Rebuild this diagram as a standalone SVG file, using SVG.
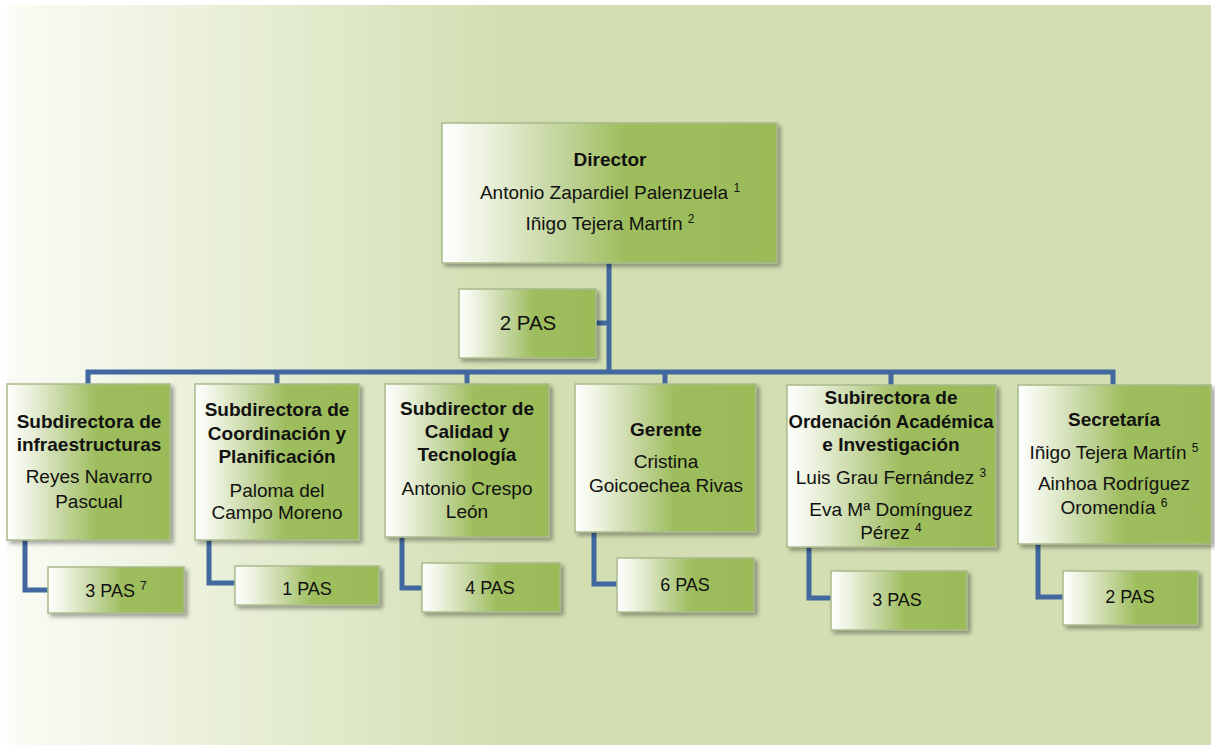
<svg xmlns="http://www.w3.org/2000/svg" width="1215" height="745" viewBox="0 0 1215 745">
<style>
.box{stroke:#a9ba8c;stroke-width:1.5;filter:url(#sh)}
.t{font-family:"Liberation Sans",Arial,sans-serif;font-size:19px;fill:#111;text-anchor:middle}
.b{font-weight:bold}
.p{font-size:18px}
.sup{font-size:12px}
.con{fill:none;stroke:#41699f;stroke-width:5;stroke-linejoin:miter}
</style>
<defs>
<linearGradient id="bg" gradientUnits="userSpaceOnUse" x1="7" y1="0" x2="500" y2="0">
<stop offset="0" stop-color="#fafcf5"/>
<stop offset="1" stop-color="#d3dfb3"/>
</linearGradient>
<linearGradient id="g" x1="0" y1="0" x2="1" y2="0">
<stop offset="0" stop-color="#ffffff"/>
<stop offset="0.12" stop-color="#eef3e1"/>
<stop offset="0.35" stop-color="#c3d59d"/>
<stop offset="0.55" stop-color="#9ebd5d"/>
<stop offset="1" stop-color="#9bbb59"/>
</linearGradient>
<filter id="sh" x="-10%" y="-10%" width="125%" height="130%">
<feDropShadow dx="3" dy="3" stdDeviation="2" flood-color="#000" flood-opacity="0.35"/>
</filter>
</defs>
<rect x="0" y="0" width="1215" height="745" fill="#ffffff"/>
<rect x="7" y="5" width="1204" height="740" fill="url(#bg)"/>

<g id="connectors">
<path class="con" d="M609 263 V372"/>
<path class="con" d="M596 323 H609"/>
<path class="con" d="M88 384 V372 H1113 V385"/>
<path class="con" d="M277 372 V384"/>
<path class="con" d="M467 372 V384"/>
<path class="con" d="M665 372 V384"/>
<path class="con" d="M891 372 V385"/>
<path class="con" d="M25 540 V590 H48"/>
<path class="con" d="M209 536 V583 H235"/>
<path class="con" d="M402 537 V588 H422"/>
<path class="con" d="M594 532 V584 H617"/>
<path class="con" d="M809 547 V598 H831"/>
<path class="con" d="M1038 544 V597 H1063"/>
</g>

<g id="director">
<rect class="box" x="442" y="123" width="335" height="140" fill="url(#g)"/>
<text class="t b" x="610" y="166">Director</text>
<text class="t" x="610" y="199">Antonio Zapardiel Palenzuela <tspan class="sup" dy="-7">1</tspan></text>
<text class="t" x="610" y="230">Iñigo Tejera Martín <tspan class="sup" dy="-7">2</tspan></text>
</g>

<g id="director-pas">
<rect class="box" x="459" y="289" width="137" height="69" fill="url(#g)"/>
<text class="t" x="528" y="330" style="font-size:20.5px">2 PAS</text>
</g>

<g id="infraestructuras">
<rect class="box" x="7" y="384" width="163" height="156" fill="url(#g)"/>
<text class="t b" x="89" y="428">Subdirectora de</text>
<text class="t b" x="89" y="451">infraestructuras</text>
<text class="t" x="89" y="483">Reyes Navarro</text>
<text class="t" x="89" y="508">Pascual</text>
</g>
<g id="infraestructuras-pas">
<rect class="box" x="48" y="567" width="136" height="46" fill="url(#g)"/>
<text class="t p" x="116" y="597">3 PAS <tspan class="sup" dy="-7">7</tspan></text>
</g>

<g id="coordinacion">
<rect class="box" x="195" y="384" width="164" height="156" fill="url(#g)"/>
<text class="t b" x="277" y="416">Subdirectora de</text>
<text class="t b" x="277" y="440">Coordinación y</text>
<text class="t b" x="277" y="463">Planificación</text>
<text class="t" x="277" y="497">Paloma del</text>
<text class="t" x="277" y="519">Campo Moreno</text>
</g>
<g id="coordinacion-pas">
<rect class="box" x="235" y="566" width="144" height="39" fill="url(#g)"/>
<text class="t p" x="307" y="595">1 PAS</text>
</g>

<g id="calidad">
<rect class="box" x="385" y="384" width="164" height="153" fill="url(#g)"/>
<text class="t b" x="467" y="415">Subdirector de</text>
<text class="t b" x="467" y="438">Calidad y</text>
<text class="t b" x="467" y="461">Tecnología</text>
<text class="t" x="467" y="495">Antonio Crespo</text>
<text class="t" x="467" y="518">León</text>
</g>
<g id="calidad-pas">
<rect class="box" x="422" y="563" width="138" height="49" fill="url(#g)"/>
<text class="t p" x="490" y="594">4 PAS</text>
</g>

<g id="gerente">
<rect class="box" x="575" y="384" width="181" height="148" fill="url(#g)"/>
<text class="t b" x="666" y="436">Gerente</text>
<text class="t" x="666" y="468">Cristina</text>
<text class="t" x="666" y="492">Goicoechea Rivas</text>
</g>
<g id="gerente-pas">
<rect class="box" x="617" y="558" width="137" height="54" fill="url(#g)"/>
<text class="t p" x="685" y="591">6 PAS</text>
</g>

<g id="ordenacion">
<rect class="box" x="787" y="385" width="209" height="162" fill="url(#g)"/>
<text class="t b" x="891" y="404">Subirectora de</text>
<text class="t b" x="891" y="428" style="font-size:18.5px">Ordenación Académica</text>
<text class="t b" x="891" y="451">e Investigación</text>
<text class="t" x="891" y="484">Luis Grau Fernández <tspan class="sup" dy="-7">3</tspan></text>
<text class="t" x="891" y="516">Eva Mª Domínguez</text>
<text class="t" x="891" y="539">Pérez <tspan class="sup" dy="-7">4</tspan></text>
</g>
<g id="ordenacion-pas">
<rect class="box" x="831" y="571" width="136" height="59" fill="url(#g)"/>
<text class="t p" x="897" y="606">3 PAS</text>
</g>

<g id="secretaria">
<rect class="box" x="1018" y="385" width="193" height="159" fill="url(#g)"/>
<text class="t b" x="1114" y="426">Secretaría</text>
<text class="t" x="1114" y="459">Iñigo Tejera Martín <tspan class="sup" dy="-7">5</tspan></text>
<text class="t" x="1114" y="490">Ainhoa Rodríguez</text>
<text class="t" x="1114" y="514">Oromendía <tspan class="sup" dy="-7">6</tspan></text>
</g>
<g id="secretaria-pas">
<rect class="box" x="1063" y="571" width="135" height="54" fill="url(#g)"/>
<text class="t p" x="1130" y="603">2 PAS</text>
</g>
</svg>
